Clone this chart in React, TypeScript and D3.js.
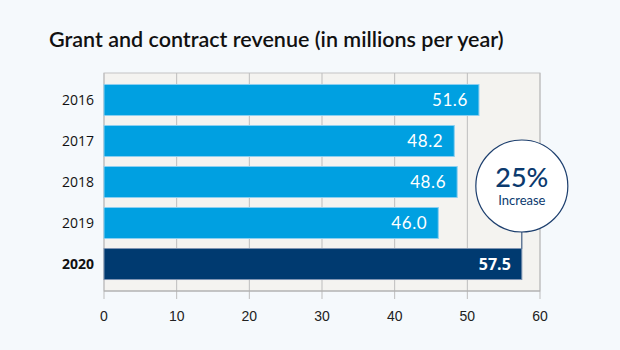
import React, { useEffect, useRef } from "react";
import * as d3 from "d3";

const years = ["2016", "2017", "2018", "2019", "2020"];
const revenue = [51.6, 48.2, 48.6, 46.0, 57.5];
const xTicks = [0, 10, 20, 30, 40, 50, 60];
const increaseLabel = "25%";
const increaseText = "Increase";

const App = () => {
  const svgRef = useRef<SVGSVGElement>(null);

  useEffect(() => {
    const w = 620;
    const h = 350;
    const left = 104;
    const right = 540;
    const top = 73;
    const bottom = 291;
    const svg = d3.select(svgRef.current);
    svg.selectAll("*").remove();

    svg.append("rect").attr("width", w).attr("height", h).attr("fill", "#f5f9fc");

    svg.append("text")
      .attr("x", 49)
      .attr("y", 47)
      .attr("font-family", "Lato, sans-serif")
      .attr("font-size", 21.5)
      .attr("font-weight", 600)
      .attr("fill", "#111")
      .text("Grant and contract revenue (in millions per year)");

    const xScale = d3.scaleLinear().domain([0, 60]).range([left, right]);
    const yScale = d3.scaleBand()
      .domain(years)
      .range([top, bottom])
      .paddingInner(0.244)
      .paddingOuter(0.28);

    // plot background
    svg.append("rect")
      .attr("x", left).attr("y", top)
      .attr("width", right - left).attr("height", bottom - top)
      .attr("fill", "#f4f3f0")
      .attr("stroke", "#c4c4c4");

    // grid + ticks
    svg.append("g")
      .selectAll("line")
      .data(xTicks)
      .join("line")
      .attr("x1", d => xScale(d)).attr("x2", d => xScale(d))
      .attr("y1", top).attr("y2", bottom + 8)
      .attr("stroke", "#bdbdbd");

    svg.append("line")
      .attr("x1", left).attr("x2", right)
      .attr("y1", bottom).attr("y2", bottom)
      .attr("stroke", "#aaa");

    svg.append("g")
      .selectAll("text")
      .data(xTicks)
      .join("text")
      .attr("x", d => xScale(d))
      .attr("y", 321)
      .attr("text-anchor", "middle")
      .attr("font-family", "'Liberation Sans', Arial, sans-serif")
      .attr("font-size", 14)
      .attr("fill", "#222")
      .text(d => d);

    const isLast = (d: string) => d === "2020";

    // bars
    svg.append("g")
      .selectAll("rect")
      .data(years)
      .join("rect")
      .attr("x", left)
      .attr("y", d => yScale(d)!)
      .attr("width", (d, i) => xScale(revenue[i]) - left)
      .attr("height", yScale.bandwidth())
      .attr("fill", d => isLast(d) ? "#003a70" : "#00a0e1")
      .attr("stroke", d => isLast(d) ? "#7f95b3" : "#8ccff0")
      .attr("stroke-width", 1);

    // year labels
    svg.append("g")
      .selectAll("text")
      .data(years)
      .join("text")
      .attr("x", 94)
      .attr("y", d => yScale(d)! + yScale.bandwidth() / 2 + 5)
      .attr("text-anchor", "end")
      .attr("font-family", "'Open Sans', sans-serif")
      .attr("font-size", 14)
      .attr("font-weight", d => isLast(d) ? 700 : 400)
      .attr("fill", "#111")
      .text(d => d);

    // value labels
    svg.append("g")
      .selectAll("text")
      .data(years)
      .join("text")
      .attr("x", (d, i) => xScale(revenue[i]) - 11)
      .attr("y", d => yScale(d)! + yScale.bandwidth() / 2 + 6)
      .attr("text-anchor", "end")
      .attr("font-family", d => isLast(d) ? "'Open Sans', sans-serif" : "Lato, sans-serif")
      .attr("font-size", d => isLast(d) ? 16 : 17)
      .attr("font-weight", d => isLast(d) ? 700 : 400)
      .attr("letter-spacing", d => isLast(d) ? 0 : 0.6)
      .attr("fill", "#fff")
      .text((d, i) => revenue[i].toFixed(1));

    // increase callout
    const cx = xScale(revenue[4]);
    const cy = 186;
    const r = 46;
    svg.append("line")
      .attr("x1", cx).attr("x2", cx)
      .attr("y1", cy + r).attr("y2", yScale("2020")!)
      .attr("stroke", "#1d3f6e");
    svg.append("circle")
      .attr("cx", cx).attr("cy", cy).attr("r", r)
      .attr("fill", "#fff")
      .attr("stroke", "#1d3f6e")
      .attr("stroke-width", 1.2);
    svg.append("text")
      .attr("x", cx).attr("y", cy + 1)
      .attr("text-anchor", "middle")
      .attr("font-family", "Lato, sans-serif")
      .attr("font-size", 27)
      .attr("font-weight", 500)
      .attr("fill", "#0b3a6e")
      .text(increaseLabel);
    svg.append("text")
      .attr("x", cx).attr("y", cy + 19)
      .attr("text-anchor", "middle")
      .attr("font-family", "Lato, sans-serif")
      .attr("font-size", 13)
      .attr("font-weight", 400)
      .attr("fill", "#0b3a6e")
      .text(increaseText);
  }, []);

  return (
    <svg ref={svgRef} width={620} height={350}
      style={{ position: "absolute", left: 0, top: 0, display: "block" }} />
  );
};

export default App;
